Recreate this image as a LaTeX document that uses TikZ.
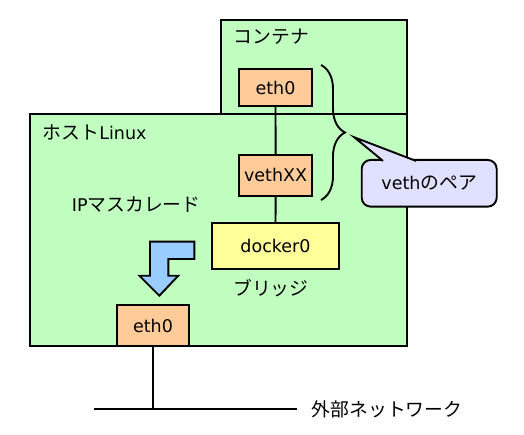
\documentclass[tikz,border=0pt]{standalone}
\usepackage{fontspec}
\setmainfont{DejaVu Sans}
\newfontfamily\jpfont{Noto Sans CJK JP}
\newcommand{\J}[1]{{\jpfont\fontsize{18.8bp}{22bp}\selectfont #1}}
\usetikzlibrary{decorations.pathreplacing}
\definecolor{boxgreen}{RGB}{192,255,192}
\definecolor{ifaceorange}{RGB}{255,204,153}
\definecolor{bridgeyellow}{RGB}{255,255,153}
\definecolor{arrowblue}{RGB}{153,204,255}
\definecolor{calloutlav}{RGB}{224,224,255}
\begin{document}
\begin{tikzpicture}[x=1bp,y=-1bp,line width=1.9bp,
  every node/.style={font=\fontsize{17.5bp}{20bp}\selectfont,inner sep=0pt},
  area/.style={draw,fill=boxgreen},
  iface/.style={draw,fill=ifaceorange,minimum width=73bp,minimum height=37bp}]
\useasboundingbox (0,0) rectangle (524,435);
\node[area,minimum width=186bp,minimum height=94.3bp] (container) at (314,67.15) {};
\node[area,minimum width=377bp,minimum height=231.7bp] (host) at (218.5,230.15) {};
\node[anchor=west] (containerlabel) at (233,36.7) {\J{コンテナ}};
\node[anchor=west] (hostlabel) at (42,132.3) {\J{ホスト}Linux};
\node[anchor=west] (masq) at (71,205) {IP\J{マスカレード}};
\node (bridgelabel) at (270.8,288) {\J{ブリッジ}};
\node[anchor=west] (netlabel) at (311,409.3) {\J{外部ネットワーク}};
\node[iface,minimum height=36.7bp] (ceth) at (275.5,87.7) {eth0};
\node[iface,minimum width=72.7bp,minimum height=40.7bp] (veth) at (275.6,175.3) {vethXX};
\node[draw,fill=bridgeyellow,minimum width=127.6bp,minimum height=45.7bp] (docker) at (275.5,246.2) {docker0};
\node[iface,minimum width=72.6bp,minimum height=41bp] (heth) at (153,325.5) {eth0};
\draw (ceth) -- (veth);
\draw (veth) -- (docker);
\coordinate (netjoint) at (153,409.3);
\coordinate (netL) at (94,409.3);
\coordinate (netR) at (297.3,409.3);
\draw (heth) -- (netjoint);
\draw (netL) -- (netR);
\draw[fill=arrowblue] (150,241.7) -- (194.3,241.7) -- (194.3,259) -- (168.3,259) -- (168.3,275.7) -- (178.3,275.7) -- (159.3,295.7) -- (139.3,275.7) -- (150,275.7) -- cycle;
\draw[decorate,decoration={brace,amplitude=24bp}] (321,65) -- (321,200);
\node[draw,fill=calloutlav,rounded corners=9bp,minimum width=135bp,minimum height=46.7bp] (pair) at (429.2,183.3) {veth\J{のペア}};
\coordinate (ptip) at (354.3,137.3);
\coordinate (pa) at (383,160.9);
\coordinate (pb) at (416,160.9);
\fill[calloutlav] (pa) -- (ptip) -- (pb) -- cycle;
\draw (pa) -- (ptip) -- (pb);
\end{tikzpicture}
\end{document}
